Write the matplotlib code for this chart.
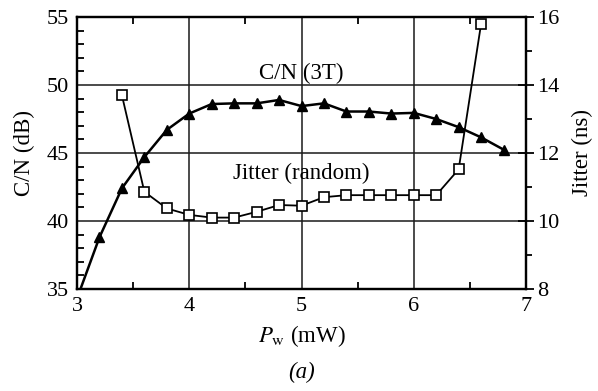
import matplotlib.pyplot as plt
from matplotlib.ticker import MultipleLocator

# C/N (3T) data, left axis
pw_cn = [3.0, 3.2, 3.4, 3.6, 3.8, 4.0, 4.2, 4.4, 4.6, 4.8,
         5.0, 5.2, 5.4, 5.6, 5.8, 6.0, 6.2, 6.4, 6.6, 6.8]
cn_db = [34.3, 38.8, 42.4, 44.7, 46.7, 47.9, 48.6, 48.65, 48.65, 48.9,
         48.45, 48.65, 48.05, 48.05, 47.9, 47.95, 47.5, 46.9, 46.15, 45.25]

# Jitter (random) data, right axis
pw_jit = [3.4, 3.6, 3.8, 4.0, 4.2, 4.4, 4.6, 4.8, 5.0,
          5.2, 5.4, 5.6, 5.8, 6.0, 6.2, 6.4, 6.6]
jitter_ns = [13.7, 10.86, 10.37, 10.18, 10.1, 10.1, 10.27, 10.47, 10.45,
             10.7, 10.76, 10.76, 10.76, 10.76, 10.76, 11.52, 15.8]

plt.rcParams['font.family'] = ['Liberation Serif', 'DejaVu Serif']
plt.rcParams['mathtext.fontset'] = 'stix'
fs = 16.5

fig = plt.figure(figsize=(5.98, 3.91), dpi=100)
ax = fig.add_axes([77/598, 1 - 289/391, (526 - 77)/598, (289 - 17)/391])
ax2 = ax.twinx()

ax.set_xlim(3, 7)
ax.set_ylim(35, 55)
ax2.set_ylim(8, 16)

# grid
for gx in [4, 5, 6]:
    ax.axvline(gx, color='#1a1a1a', lw=1.1, zorder=1)
for gy in [40, 45, 50]:
    ax.axhline(gy, color='#1a1a1a', lw=1.1, zorder=1)

ax.plot(pw_cn, cn_db, color='black', lw=1.8, marker='^', markersize=7.5,
        markerfacecolor='black', zorder=3)
ax2.plot(pw_jit, jitter_ns, color='black', lw=1.3, marker='s', markersize=7,
         markerfacecolor='white', markeredgecolor='black', markeredgewidth=1.2, zorder=3)

ax.text(5.0, 50.85, 'C/N (3T)', fontsize=fs, ha='center', va='center')
ax.text(5.0, 43.5, 'Jitter (random)', fontsize=fs, ha='center', va='center')

for a in (ax, ax2):
    for s in a.spines.values():
        s.set_linewidth(1.6)

ax.xaxis.set_major_locator(MultipleLocator(1))
ax.xaxis.set_minor_locator(MultipleLocator(0.5))
ax.yaxis.set_major_locator(MultipleLocator(5))
ax.yaxis.set_minor_locator(MultipleLocator(1))
ax.tick_params(axis='x', which='major', direction='in', length=0, labelsize=16, pad=6, top=True)
ax.tick_params(axis='x', which='minor', direction='in', length=5, width=1.3, top=True)
ax.tick_params(axis='y', which='major', direction='in', length=0, labelsize=16, pad=6)
ax.tick_params(axis='y', which='minor', direction='in', length=5, width=1.3)

ax2.yaxis.set_major_locator(MultipleLocator(2))
ax2.yaxis.set_minor_locator(MultipleLocator(1))
ax2.tick_params(axis='y', which='major', direction='inout', length=12, width=1.3, labelsize=16, pad=2)
ax2.tick_params(axis='y', which='minor', direction='out', length=4, width=1.3)

ax.set_ylabel('C/N (dB)', fontsize=fs, labelpad=8)
ax2.set_ylabel('Jitter (ns)', fontsize=fs, labelpad=9)
ax.set_xlabel(r'$P_{\mathrm{w}}$ (mW)', fontsize=fs, labelpad=5)

fig.text(302/598, 1 - 372/391, '(a)', fontsize=fs, style='italic', ha='center', va='center')

fig.savefig('out.png', dpi=100)
